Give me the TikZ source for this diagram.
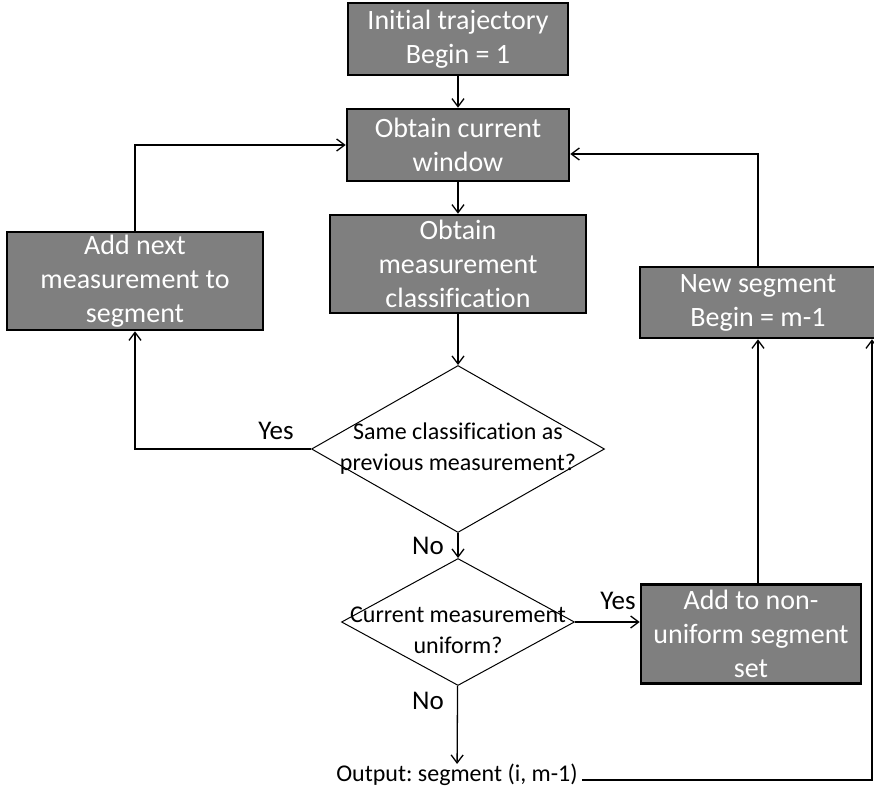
\documentclass[tikz,border=0pt]{standalone}
\usepackage{fontspec}
\setmainfont{Carlito}[Ligatures={NoCommon}]
\frenchspacing
\usetikzlibrary{arrows.meta,positioning,shapes.geometric}
\definecolor{boxgray}{HTML}{7F7F7F}

\begin{document}
\begin{tikzpicture}[
x=1pt, y=-1pt,
procbox/.style={draw=black, line width=2.6pt, fill=boxgray, text=white, align=center, inner sep=0pt, font=\fontsize{28}{34}\selectfont},
decision/.style={draw, diamond, line width=1pt, inner sep=0pt},
question/.style={align=center, font=\fontsize{24}{31}\selectfont},
answer/.style={font=\fontsize{27}{30}\selectfont},
arrow/.style={-{Straight Barb[length=8pt,width=12pt]}, line width=1.3pt}
]
\useasboundingbox (0,0) rectangle (874,789);

\node[procbox, minimum width=220pt, minimum height=72pt] (init) at (458,39) {Initial trajectory\\Begin = 1};
\node[procbox, minimum width=222pt, minimum height=72pt] (window) at (458,145) {Obtain current\\window};
\node[procbox, minimum width=256pt, minimum height=98pt] (classif) at (458,264) {Obtain\\measurement\\classification};
\node[procbox, minimum width=256pt, minimum height=98pt] (addnext) at (135,281) {Add next\\measurement to\\segment};
\node[procbox, minimum width=236pt, minimum height=71pt] (newseg) at (758,302.5) {New segment\\Begin = m-1};
\node[decision, minimum width=293pt, minimum height=167pt,
  label={[question]center:{Same classification as\\previous measurement?}}] (same) at (458,449) {};
\node[decision, minimum width=233pt, minimum height=127pt,
  label={[question, yshift=-8pt]center:{Current measurement\\uniform?}}] (uniform) at (458,622) {};
\node[procbox, minimum width=220pt, minimum height=99pt] (nonuni) at (751,634) {Add to non-\\uniform segment\\set};
\node[inner xsep=4pt, inner ysep=0pt, font=\fontsize{24}{28}\selectfont] (output) at (457,775) {Output: segment (i, m-1)};
\coordinate (corner) at (872,780);

% labels on the branches
\node[answer] (yes1) at (276,431) {Yes};
\node[answer] (no1) at (428,546) {No};
\node[answer] (yes2) at (618,601) {Yes};
\node[answer] (no2) at (428,701) {No};

\draw[arrow] (init) -- (window);
\draw[arrow] (window) -- (classif);
\draw[arrow] (classif) -- (same);
\draw[arrow] (same.west) -| (addnext.south);
\draw[arrow] (addnext.north) |- (window.west);
\draw[arrow] (same) -- (uniform);
\draw[arrow] (uniform.east) -- (uniform.east -| nonuni.west);
\draw[arrow] (uniform) -- (output);
\draw[arrow] (newseg.south |- nonuni.north) -- (newseg.south);
\draw[arrow] (newseg.north) |- ([yshift=-9pt]window.east);
\draw[arrow] (output.east |- corner) -- (corner) -- (corner |- newseg.south);
\end{tikzpicture}
\end{document}
